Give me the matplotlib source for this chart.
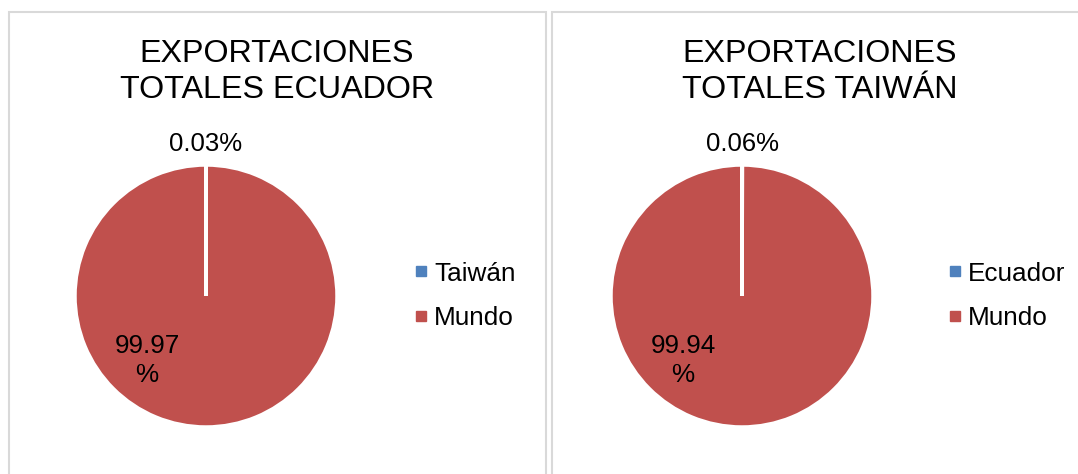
import matplotlib.pyplot as plt
from matplotlib.patches import Rectangle
from matplotlib.lines import Line2D

plt.rcParams['font.family'] = ['Liberation Sans', 'DejaVu Sans']

# data
titles = ["EXPORTACIONES\nTOTALES ECUADOR", "EXPORTACIONES\nTOTALES TAIWÁN"]
names_1 = ["Taiwán", "Mundo"]
names_2 = ["Ecuador", "Mundo"]
values_1 = [0.03, 99.97]
values_2 = [0.06, 99.94]
labels_1 = ["0.03%", "99.97\n%"]
labels_2 = ["0.06%", "99.94\n%"]

colors = ['#4F81BD', '#C0504D']
W, H = 1078, 474

fig = plt.figure(figsize=(W / 100, H / 100), dpi=100)

def px(x, y):
    # pixel coords (from top-left) -> figure fraction
    return x / W, 1 - y / H

# panel frames
for x0, x1 in [(9, 546), (552, 1100)]:
    fig.patches.append(Rectangle(px(x0, 490), (x1 - x0) / W, (490 - 12) / H,
                                 transform=fig.transFigure, fill=False,
                                 edgecolor='#D9D9D9', linewidth=1.5))

panels = [
    (titles[0], names_1, values_1, labels_1, 277, 206, 416),
    (titles[1], names_2, values_2, labels_2, 820, 742, 950),
]

R = 131
for title, names, vals, labs, tx, cx, lx in panels:
    fig.text(*px(tx, 72), title, ha='center', va='center', fontsize=23.2,
             linespacing=1.24)

    ax = fig.add_axes([(cx - R) / W, (H - 296 - R) / H, 2 * R / W, 2 * R / H])
    wedges, _ = ax.pie(vals, colors=colors, startangle=90, counterclock=False,
                       radius=1, wedgeprops=dict(edgecolor='white', linewidth=2.5))
    ax.set_xlim(-1, 1)
    ax.set_ylim(-1, 1)
    ax.set_aspect('equal')
    ax.axis('off')

    ax.text(0, 1.16, labs[0], ha='center', va='center', fontsize=18.5,
            clip_on=False)
    ax.text(-0.45, -0.49, labs[1], ha='center', va='center', fontsize=18.8,
            linespacing=1.25, clip_on=False)

    handles = [Line2D([], [], linestyle='none', marker='s', markersize=6.5,
                      markerfacecolor=c, markeredgecolor=c) for c in colors]
    fig.legend(handles, names, loc='center left',
               bbox_to_anchor=px(lx, 296), bbox_transform=fig.transFigure,
               frameon=False, fontsize=18.8, handlelength=0.4,
               handletextpad=0.3, labelspacing=0.8, borderpad=0, borderaxespad=0)

fig.savefig('out.png', dpi=100)
